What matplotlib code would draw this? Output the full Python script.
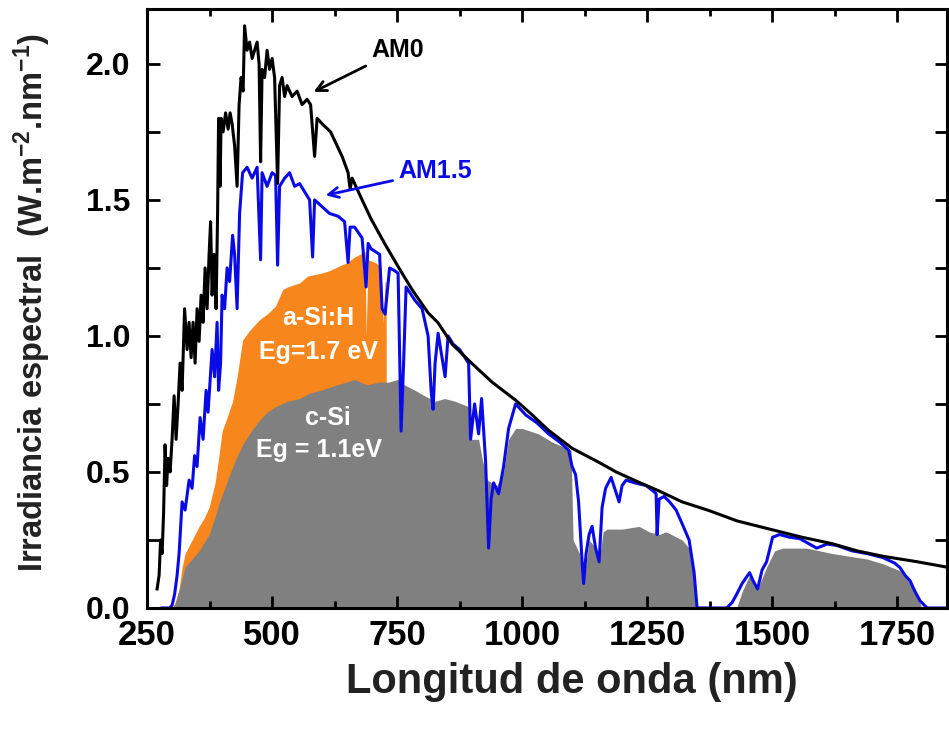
import numpy as np
import matplotlib
matplotlib.use("Agg")
import matplotlib.pyplot as plt
from matplotlib.ticker import MultipleLocator

plt.rcParams['font.family'] = ['Liberation Sans', 'DejaVu Sans']
plt.rcParams['font.weight'] = 'bold'
plt.rcParams['mathtext.fontset'] = 'custom'
plt.rcParams['mathtext.rm'] = 'Liberation Sans:bold'
plt.rcParams['mathtext.default'] = 'rm'

# AM0 extraterrestrial spectrum
am0_wl = [270, 274, 277, 280, 283, 286, 289, 292, 296, 300, 304, 308, 312, 316, 320,
          325, 330, 334, 338, 342, 346, 350, 354, 358, 362, 366, 370, 374, 377, 380,
          384, 388, 391, 393, 396, 398, 402, 407, 412, 416, 420, 425, 430, 434, 438,
          442, 445, 450, 455, 460, 465, 470, 474, 477, 480, 485, 490, 495, 500, 505,
          511, 515, 520, 525, 530, 540, 550, 560, 570, 577, 585, 590, 600, 617, 640,
          652, 656, 660, 680, 698, 725, 752, 780, 812, 832, 860, 899, 940, 987, 1020,
          1053, 1100, 1154, 1188, 1230, 1274, 1320, 1374, 1430, 1495, 1560, 1621, 1670,
          1722, 1790, 1850]
am0_val = [0.07, 0.12, 0.25, 0.20, 0.35, 0.60, 0.45, 0.55, 0.50, 0.62, 0.78, 0.62, 0.75, 0.90, 0.80,
           1.10, 0.95, 1.05, 0.92, 1.05, 0.90, 1.10, 0.98, 1.15, 1.05, 1.25, 1.10, 1.30, 1.42, 1.15,
           1.30, 1.10, 1.45, 1.80, 1.55, 1.80, 1.75, 1.82, 1.76, 1.82, 1.78, 1.70, 1.55, 1.85, 1.95,
           1.90, 2.14, 2.05, 2.08, 2.02, 2.05, 2.08, 2.00, 1.64, 1.98, 1.95, 2.05, 1.98, 2.02, 1.95,
           1.56, 1.92, 1.95, 1.88, 1.92, 1.88, 1.90, 1.85, 1.87, 1.85, 1.66, 1.80, 1.78, 1.75, 1.66,
           1.60, 1.54, 1.58, 1.50, 1.43, 1.34, 1.255, 1.17, 1.085, 1.048, 0.97, 0.90, 0.83, 0.764, 0.71,
           0.653, 0.587, 0.535, 0.50, 0.465, 0.43, 0.39, 0.358, 0.32, 0.29, 0.26, 0.236, 0.21,
           0.19, 0.17, 0.15]

# AM1.5 terrestrial spectrum
am15_wl = [280, 295, 300, 305, 310, 314, 320, 326, 334, 340, 345, 350, 356, 362, 368,
           372, 380, 385, 390, 393, 397, 400, 405, 410, 415, 421, 425, 430, 435, 441,
           450, 460, 470, 477, 480, 490, 500, 507, 511, 515, 525, 535, 545, 555, 565,
           575, 581, 585, 597, 615, 632, 645, 652, 656, 665, 680, 688, 692, 698, 715,
           720, 726, 735, 745, 752, 758, 763, 768, 786, 800, 812, 818, 822, 826, 832,
           846, 852, 862, 875, 893, 897, 905, 913, 919, 927, 933, 938, 943, 953, 963,
           973, 987, 1007, 1030, 1053, 1075, 1093, 1100, 1107, 1113, 1120, 1123, 1128, 1134, 1140,
           1147, 1154, 1160, 1167, 1178, 1187, 1194, 1200, 1208, 1225, 1248, 1262, 1268, 1270, 1274,
           1284, 1295, 1308, 1320, 1334, 1344, 1350, 1409, 1420, 1429, 1440, 1455, 1462, 1471, 1480,
           1489, 1501, 1515, 1535, 1555, 1570, 1589, 1610, 1629, 1660, 1690, 1722, 1745, 1756, 1766,
           1776, 1786, 1796, 1810, 1850]
am15_val = [0.0, 0.0, 0.01, 0.05, 0.12, 0.20, 0.39, 0.36, 0.47, 0.44, 0.56, 0.52, 0.70, 0.62, 0.80,
            0.72, 0.95, 0.85, 1.05, 0.80, 0.90, 1.15, 1.10, 1.25, 1.20, 1.37, 1.30, 1.10, 1.45, 1.60,
            1.62, 1.58, 1.62, 1.28, 1.60, 1.55, 1.60, 1.59, 1.26, 1.55, 1.58, 1.60, 1.55, 1.56, 1.53,
            1.50, 1.29, 1.50, 1.48, 1.45, 1.44, 1.42, 1.27, 1.40, 1.40, 1.36, 1.18, 1.34, 1.32, 1.30,
            1.10, 1.08, 1.25, 1.24, 1.23, 0.65, 0.90, 1.18, 1.13, 1.10, 1.00, 0.80, 0.73, 0.90, 1.01,
            0.85, 1.00, 0.97, 0.95, 0.90, 0.62, 0.75, 0.64, 0.77, 0.54, 0.22, 0.40, 0.46, 0.42, 0.52,
            0.66, 0.75, 0.71, 0.68, 0.64, 0.61, 0.58, 0.52, 0.49, 0.39, 0.17, 0.09, 0.20, 0.27, 0.30,
            0.22, 0.17, 0.37, 0.44, 0.48, 0.43, 0.39, 0.45, 0.47, 0.46, 0.45, 0.43, 0.42, 0.27, 0.40,
            0.41, 0.39, 0.36, 0.31, 0.25, 0.13, 0.0, 0.0, 0.02, 0.05, 0.09, 0.13, 0.10, 0.07, 0.14,
            0.17, 0.26, 0.27, 0.26, 0.255, 0.24, 0.22, 0.235, 0.23, 0.21, 0.20, 0.185, 0.165, 0.148, 0.12,
            0.10, 0.06, 0.026, 0.0, 0.0]

# a-Si:H usable part (Eg = 1.7 eV)
asi_wl = [300, 306, 314, 320, 326, 340, 354, 364, 374, 386, 393, 400, 410, 421, 430,
          441, 455, 475, 490, 507, 521, 531, 555, 571, 597, 615, 632, 650, 665, 686,
          688, 692, 706, 718, 722, 726, 728, 729]
asi_val = [0.0, 0.02, 0.07, 0.15, 0.20, 0.25, 0.30, 0.33, 0.37, 0.46, 0.55, 0.65, 0.70, 0.76, 0.85,
           0.985, 1.02, 1.06, 1.08, 1.11, 1.17, 1.18, 1.195, 1.22, 1.23, 1.24, 1.255, 1.27, 1.29, 1.31,
           1.00, 1.28, 1.27, 1.255, 1.05, 1.20, 1.20, 0.0]

# c-Si usable part (Eg = 1.1 eV)
csi_wl = [300, 306, 316, 326, 340, 354, 364, 374, 385, 395, 405, 415, 428, 441, 458,
          475, 490, 507, 531, 555, 575, 597, 630, 665, 690, 712, 732, 752, 765, 786,
          805, 826, 845, 866, 893, 897, 913, 920, 930, 950, 963, 973, 987, 1000, 1033,
          1060, 1098, 1102, 1115, 1123, 1134, 1147, 1154, 1162, 1170, 1200, 1234, 1254, 1274, 1288,
          1320, 1334, 1340, 1350, 1429, 1440, 1455, 1471, 1489, 1505, 1521, 1569, 1621, 1690, 1722,
          1756, 1776, 1790, 1800, 1850]
csi_val = [0.0, 0.015, 0.08, 0.15, 0.18, 0.21, 0.24, 0.27, 0.33, 0.39, 0.44, 0.49, 0.55, 0.60, 0.65,
           0.69, 0.72, 0.74, 0.76, 0.77, 0.79, 0.80, 0.82, 0.84, 0.82, 0.83, 0.83, 0.84, 0.82, 0.80,
           0.78, 0.76, 0.77, 0.76, 0.74, 0.62, 0.62, 0.55, 0.47, 0.45, 0.50, 0.62, 0.66, 0.66, 0.64,
           0.61, 0.58, 0.25, 0.20, 0.09, 0.25, 0.22, 0.17, 0.28, 0.29, 0.29, 0.30, 0.28, 0.27, 0.28,
           0.25, 0.22, 0.15, 0.0, 0.0, 0.06, 0.12, 0.07, 0.15, 0.21, 0.22, 0.22, 0.20, 0.18, 0.162,
           0.137, 0.09, 0.04, 0.0, 0.0]

fig = plt.figure(figsize=(9.49, 7.29), dpi=100)
ax = fig.add_axes([0.155, 0.166, 0.843, 0.821])

ax.fill_between(asi_wl, 0, asi_val, color='#f7861c', lw=0)
ax.fill_between(csi_wl, 0, csi_val, color='#808080', lw=0)
ax.plot(am15_wl, am15_val, color='#0a0ae6', lw=2.2)
ax.plot(am0_wl, am0_val, color='black', lw=2.2)

ax.set_xlim(250, 1850)
ax.set_ylim(0, 2.2)
ax.xaxis.set_major_locator(MultipleLocator(250))
ax.xaxis.set_minor_locator(MultipleLocator(125))
ax.yaxis.set_major_locator(MultipleLocator(0.5))
ax.yaxis.set_minor_locator(MultipleLocator(0.25))
ax.yaxis.set_major_formatter(plt.FormatStrFormatter('%.1f'))

for s in ax.spines.values():
    s.set_linewidth(2.2)
ax.tick_params(which='both', direction='in', top=True, right=True, width=2)
ax.tick_params(which='major', length=9)
ax.tick_params(axis='x', which='minor', length=5)
ax.tick_params(axis='y', which='minor', length=9)
ax.tick_params(axis='x', which='major', labelsize=25, pad=8)
ax.tick_params(axis='y', which='major', labelsize=23, pad=12)

ax.set_xlabel('Longitud de onda (nm)', fontsize=30, fontweight='bold', color='#222222')
ax.xaxis.set_label_coords(0.531, -0.09)
ax.set_ylabel('Irradiancia espectral  (W.m$^{-2}$.nm$^{-1}$)', fontsize=23.5,
              fontweight='bold', color='#222222')
ax.yaxis.set_label_coords(-0.118, 0.51)

ax.annotate('AM0', xy=(583, 1.897), xytext=(698, 2.05), fontsize=18, fontweight='bold',
            ha='left', va='center',
            arrowprops=dict(arrowstyle='->', lw=2, color='black', mutation_scale=18,
                            shrinkA=2, shrinkB=0))
ax.annotate('AM1.5', xy=(607, 1.517), xytext=(752, 1.605), fontsize=18, fontweight='bold',
            color='#0a0ae6', ha='left', va='center',
            arrowprops=dict(arrowstyle='->', lw=2, color='#0a0ae6', mutation_scale=18,
                            shrinkA=2, shrinkB=0))

ax.text(593, 1.066, 'a-Si:H', color='white', fontsize=18, fontweight='bold', ha='center', va='center')
ax.text(593, 0.941, 'Eg=1.7 eV', color='white', fontsize=18, fontweight='bold', ha='center', va='center')
ax.text(612, 0.697, 'c-Si', color='white', fontsize=18, fontweight='bold', ha='center', va='center')
ax.text(593, 0.579, 'Eg = 1.1eV', color='white', fontsize=18, fontweight='bold', ha='center', va='center')

fig.savefig('out.png', dpi=100)
